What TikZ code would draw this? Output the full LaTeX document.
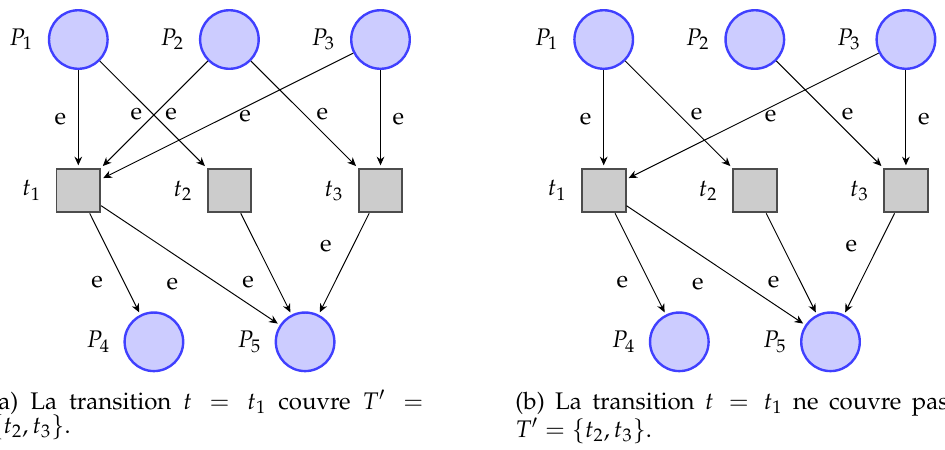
\documentclass[tikz,border=0pt]{standalone}
\usepackage[T1]{fontenc}
\usepackage{mathpazo}
\usetikzlibrary{arrows.meta,positioning}
\tikzset{
  place/.style={circle,draw=blue!75,fill=blue!20,line width=1pt,minimum size=24.4pt,inner sep=0pt},
  trans/.style={rectangle,draw=black!70,fill=black!20,line width=0.8pt,minimum size=18.2pt,inner sep=0pt},
  nm/.style={inner sep=3.33pt,font=\fontsize{10}{12}\selectfont},
  arc/.style={-{Stealth[length=3.6pt,width=3.2pt]},line width=0.4pt,shorten >=1pt},
  lab/.style={inner sep=4.9pt,font=\fontsize{10}{12}\selectfont},
  captxt/.style={inner sep=0pt,text width=180.4pt,align=justify,anchor=base west,font=\fontsize{10}{10}\selectfont}
}
\newcommand\mypanel[2]{%
  \begin{scope}[xshift=#2]
    \node[place] (#1P1) at (78.3,39.5) {};
    \node[place] (#1P2) at (229.4,39.5) {};
    \node[place] (#1P3) at (380.5,39.5) {};
    \node[trans] (#1t1) at (78.3,190.5) {};
    \node[trans] (#1t2) at (229.4,190.5) {};
    \node[trans] (#1t3) at (380.5,190.5) {};
    \node[place] (#1P4) at (153.9,341.8) {};
    \node[place] (#1P5) at (305.1,341.8) {};
    \node[nm,left=2.6pt of #1P1] (#1lP1) {$P_1$};
    \node[nm,left=2.6pt of #1P2] (#1lP2) {$P_2$};
    \node[nm,left=2.6pt of #1P3] (#1lP3) {$P_3$};
    \node[nm,left=2.4pt of #1t1] (#1lt1) {$t_1$};
    \node[nm,left=2.4pt of #1t2] (#1lt2) {$t_2$};
    \node[nm,left=2.4pt of #1t3] (#1lt3) {$t_3$};
    \node[nm,left=2.0pt of #1P4] (#1lP4) {$P_4$};
    \node[nm,left=2.0pt of #1P5] (#1lP5) {$P_5$};
    \draw[arc] (#1P1) -- node[lab,midway,left] (#1e11) {e} (#1t1);
    \draw[arc] (#1P1) -- node[lab,midway,right] (#1e12) {e} (#1t2);
    \draw[arc] (#1P3) -- node[lab,midway,right] (#1e31) {e} (#1t1);
    \draw[arc] (#1P2) -- node[lab,midway,right] (#1e23) {e} (#1t3);
    \draw[arc] (#1P3) -- node[lab,midway,right] (#1e33) {e} (#1t3);
    \draw[arc] (#1t1) -- node[lab,midway,below left] (#1f14) {e} (#1P4);
    \draw[arc] (#1t1) -- node[lab,midway,below left] (#1f15) {e} (#1P5);
    \draw[arc] (#1t2) -- node[lab,midway,below left] (#1f25) {e} (#1P5);
    \draw[arc] (#1t3) -- node[lab,midway,above left] (#1f35) {e} (#1P5);
  \end{scope}}
\begin{document}
\begin{tikzpicture}[x=0.41667pt,y=-0.41667pt]
\useasboundingbox (0,0) rectangle (945,449);
\mypanel{a}{0pt}
\draw[arc] (aP2) -- node[lab,midway,left] (ae21) {e} (at1);
\mypanel{b}{218.92pt}
\node[captxt] (capa) at (-10,409) {(a) La transition $t = t_1$ couvre $T' =$\linebreak$\{t_2, t_3\}$.};
\node[captxt] (capb) at (515,409) {(b) La transition $t = t_1$ ne couvre pas\linebreak$T' = \{t_2, t_3\}$.};
\end{tikzpicture}
\end{document}
